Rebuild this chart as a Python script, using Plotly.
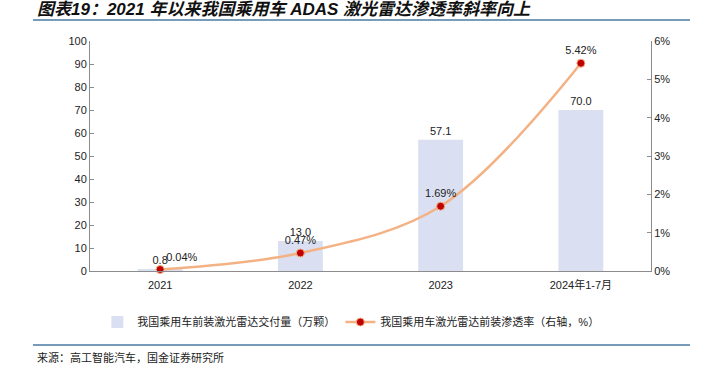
import plotly.graph_objects as go

categories = ["2021", "2022", "2023", "2024年1-7月"]
deliveries = [0.8, 13.0, 57.1, 70.0]          # 万颗
penetration = [0.04, 0.47, 1.69, 5.42]        # %
left_ticks = list(range(0, 101, 10))
right_ticks = [0, 1, 2, 3, 4, 5, 6]

FONT = "Liberation Sans, Arial, Noto Sans CJK SC, sans-serif"
AXIS = "#8c8c8c"

fig = go.Figure()
fig.add_trace(go.Bar(
    x=categories, y=deliveries, name="我国乘用车前装激光雷达交付量（万颗）",
    marker=dict(color="#dae0f2", line=dict(width=0)),
    text=[f"{v:.1f}" for v in deliveries], textposition="outside",
    textfont=dict(size=11, color="#222"), cliponaxis=False,
))
fig.add_trace(go.Scatter(
    x=categories, y=penetration, yaxis="y2", mode="lines+markers+text",
    name="我国乘用车激光雷达前装渗透率（右轴，%）",
    line=dict(color="#f4b183", width=2.5, shape="spline", smoothing=1.0),
    marker=dict(color="#c00000", size=8, line=dict(color="#f4b183", width=1)),
    text=[f"{v:.2f}%" for v in penetration],
    textposition=["top right", "top center", "top center", "top center"],
    textfont=dict(size=11, color="#222"), cliponaxis=False,
))

fig.update_layout(
    width=707, height=365,
    margin=dict(l=90, r=56, t=41, b=94),
    paper_bgcolor="white", plot_bgcolor="white",
    font=dict(family=FONT, size=11, color="#222"),
    bargap=0.68,
    showlegend=True,
    legend=dict(orientation="h", x=0.465, xanchor="center", y=-0.222, yanchor="middle",
                font=dict(size=11), itemwidth=30, tracegroupgap=0),
    xaxis=dict(showline=True, linecolor=AXIS, linewidth=1, ticks="", showgrid=False,
               tickfont=dict(size=11), ticklabelstandoff=4, fixedrange=True),
    yaxis=dict(range=[0, 100], tickvals=left_ticks, showline=True, linecolor=AXIS,
               ticks="inside", ticklen=4, tickcolor=AXIS, showgrid=False, zeroline=False,
               tickfont=dict(size=11)),
    yaxis2=dict(range=[0, 6], tickvals=right_ticks, ticktext=[f"{t}%" for t in right_ticks],
                overlaying="y", side="right", showline=True, linecolor=AXIS,
                ticks="inside", ticklen=4, tickcolor=AXIS, showgrid=False, zeroline=False,
                tickfont=dict(size=11)),
)

fig.add_annotation(
    xref="paper", yref="paper", x=-0.098, y=1.139, xanchor="left", yanchor="middle",
    text="<b><i>图表19：2021 年以来我国乘用车 ADAS 激光雷达渗透率斜率向上</i></b>",
    showarrow=False, font=dict(size=17, color="#111", family=FONT),
)
fig.add_annotation(
    xref="paper", yref="paper", x=-0.098, y=-0.374, xanchor="left", yanchor="middle",
    text="来源：高工智能汽车，国金证券研究所", showarrow=False,
    font=dict(size=11, color="#222", family="Noto Sans CJK SC"),
)
fig.add_shape(type="line", xref="paper", yref="paper", x0=-0.1016, x1=1.0695,
              y0=1.091, y1=1.091, line=dict(color="#4a7aa3", width=1.5))
fig.add_shape(type="line", xref="paper", yref="paper", x0=-0.1016, x1=1.0695,
              y0=-0.3217, y1=-0.3217, line=dict(color="#4a7aa3", width=1.5))

fig.write_html("out.html", config={"displayModeBar": False},
               post_script="document.body.style.margin='0';")
